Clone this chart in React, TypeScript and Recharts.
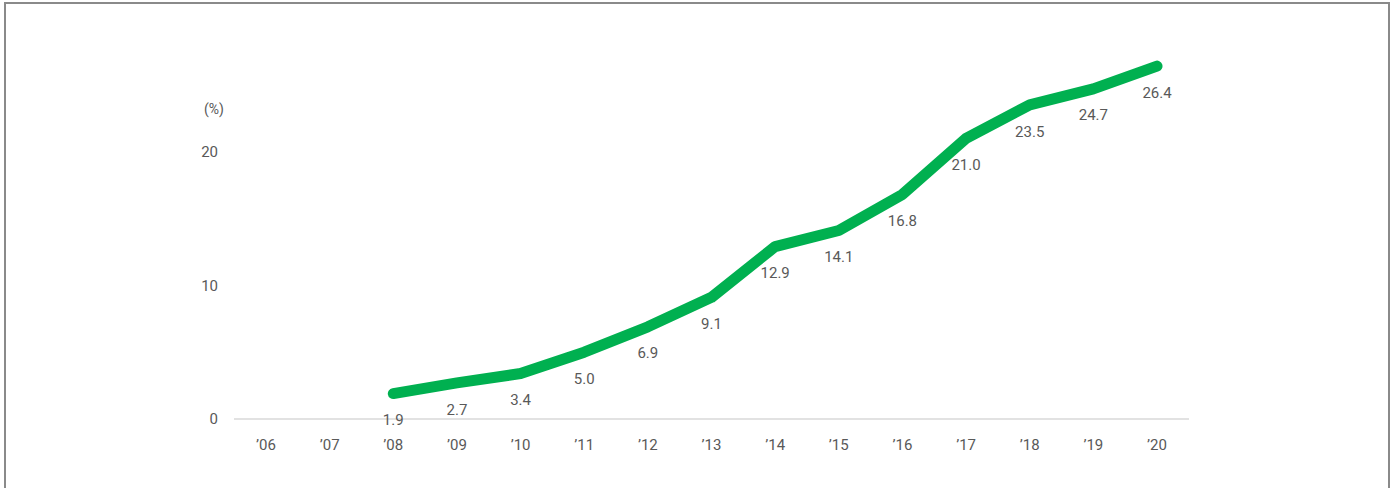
import { LineChart, Line, XAxis, YAxis, LabelList } from 'recharts';

const years = ['’06', '’07', '’08', '’09', '’10', '’11', '’12', '’13', '’14', '’15', '’16', '’17', '’18', '’19', '’20'];
const shares: (number | null)[] = [null, null, 1.9, 2.7, 3.4, 5.0, 6.9, 9.1, 12.9, 14.1, 16.8, 21.0, 23.5, 24.7, 26.4];
const yTicks = [0, 10, 20];

const data = years.map((year, i) => ({ year, share: shares[i] }));

const FONT = 'Roboto, "Noto Sans", sans-serif';
const TEXT = '#595959';

export default function App() {
  return (
    <div style={{ position: 'absolute', left: 0, top: 0, width: 1396, height: 488, overflow: 'hidden', background: '#fff' }}>
      <div
        style={{
          position: 'absolute',
          left: 4,
          top: 2,
          width: 1382,
          height: 600,
          border: '2px solid #8a8a8a',
        }}
      />
      <div
        style={{
          position: 'absolute',
          left: 195,
          top: 101,
          width: 38,
          textAlign: 'center',
          fontFamily: FONT,
          fontSize: 14,
          color: TEXT,
        }}
      >
        (%)
      </div>
      <LineChart
        width={1396}
        height={488}
        data={data}
        margin={{ top: 18, right: 207, bottom: 39, left: 200 }}
        style={{ position: 'absolute', left: 0, top: 0 }}
      >
        <XAxis
          dataKey="year"
          height={30}
          padding={{ left: 32, right: 32 }}
          tickLine={false}
          axisLine={{ stroke: '#d9d9d9', strokeWidth: 1.5 }}
          tickMargin={14}
          tick={{ fill: TEXT, fontSize: 15, fontFamily: FONT }}
          interval={0}
        />
        <YAxis
          width={34}
          domain={[0, 30]}
          ticks={yTicks}
          axisLine={false}
          tickLine={false}
          tickMargin={10}
          tick={{ fill: TEXT, fontSize: 15, fontFamily: FONT }}
        />
        <Line
          type="linear"
          dataKey="share"
          stroke="#00b050"
          strokeWidth={11}
          strokeLinecap="round"
          strokeLinejoin="round"
          dot={false}
          activeDot={false}
          isAnimationActive={false}
        >
          <LabelList
            dataKey="share"
            position="bottom"
            offset={21}
            formatter={(v: any) => (v == null ? '' : Number(v).toFixed(1))}
            style={{ fill: TEXT, fontSize: 15, fontFamily: FONT }}
          />
        </Line>
      </LineChart>
    </div>
  );
}
